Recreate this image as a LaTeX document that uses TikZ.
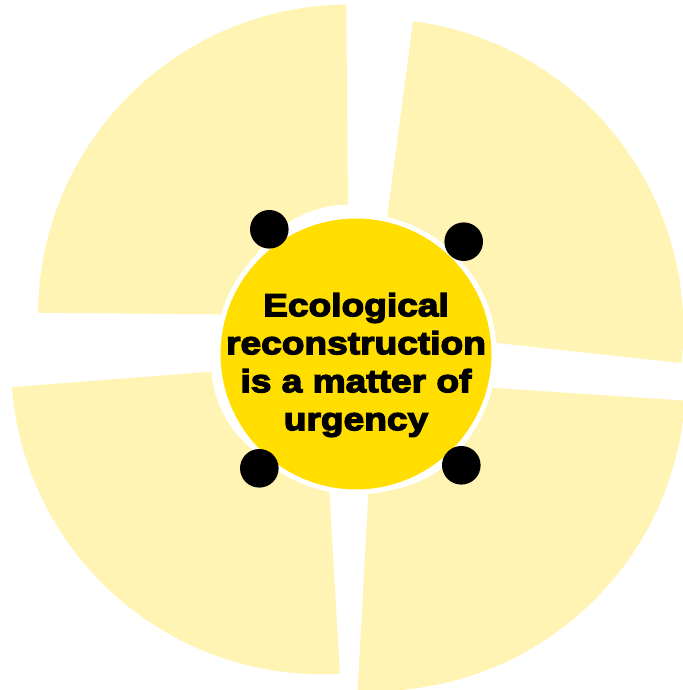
\documentclass[tikz,border=0pt]{standalone}
\usepackage{fontspec}
\usepackage{tikz}
\usetikzlibrary{positioning}
\newfontfamily\hubfont{Liberation Sans Bold}[FakeStretch=1.16,FakeBold=4]
\definecolor{petalyellow}{RGB}{255,244,180}
\definecolor{hubyellow}{RGB}{255,222,0}

\begin{document}
\begin{tikzpicture}[x=1pt,y=1pt,
  petal/.style={fill=petalyellow},
  hub/.style={circle,fill=hubyellow,draw=white,line width=5pt,minimum size=276pt,inner sep=0pt},
  hubtext/.style={align=center,inner sep=0pt,font=\hubfont\fontsize{32}{38}\selectfont},
  dot/.style={circle,fill=black,minimum size=38.6pt,inner sep=0pt}]
\fill[white] (0,0) rectangle (682,690);
\useasboundingbox (0,0) rectangle (682,690);
% the four quarters
\foreach \cx/\cy/\a/\b in {349/374.5/90.5/179.5, 372.4/360.5/-6.2/82.5,
                          322/326.8/184.4/273.3, 374.5/310/-93.1/-3.8}
  \fill[petal] ([shift={(\a:311)}]\cx,\cy) arc[start angle=\a,end angle=\b,radius=311]
     -- ([shift={(\b:111)}]\cx,\cy) arc[start angle=\b,end angle=\a,radius=111] -- cycle;
% centre
\node[hub] (hub) at (356,336) {};
\node[hubtext,yshift=-11pt] (title) at (hub) {Ecological\\reconstruction\\is a matter of\hspace*{.3em}\\urgency};
\node[dot] (d1) at (269.3,460.7) {};
\node[dot] (d2) at (463.7,448.3) {};
\node[dot] (d3) at (259.3,221.7) {};
\node[dot] (d4) at (461.3,224.7) {};
\end{tikzpicture}
\end{document}
